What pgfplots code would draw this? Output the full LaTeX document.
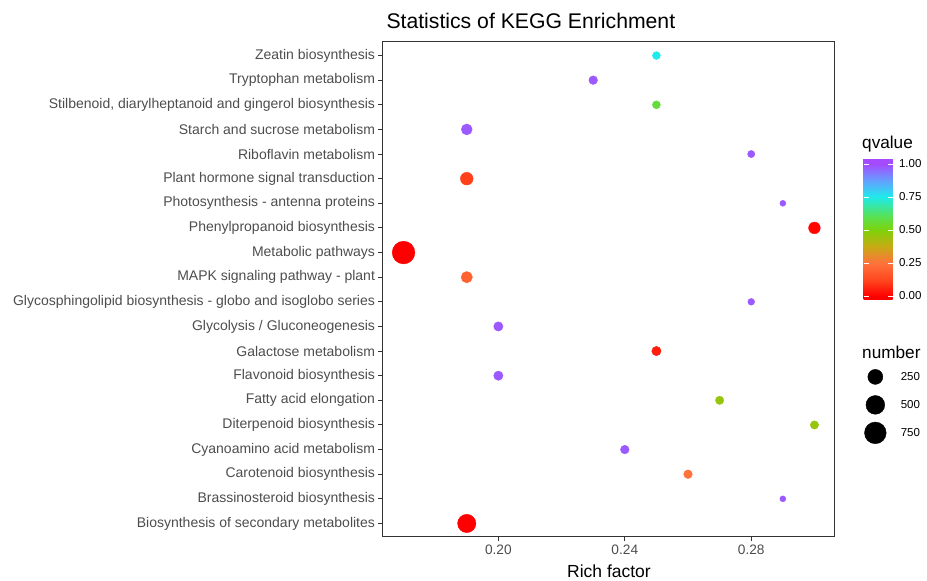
\documentclass[border=0pt]{standalone}
\usepackage{pgfplots}
\pgfplotsset{compat=1.18}
\usepackage{pgfplotstable}
\usepackage{fontspec}
\setmainfont{Liberation Sans}

\definecolor{ticktext}{HTML}{4D4D4D}
\definecolor{panelframe}{HTML}{333333}

% KEGG pathways: index on the y axis, rich factor, q value, gene number
\pgfplotstableread{
idx rf   q    n
1   0.19 0.00 463
2   0.29 0.98 3
3   0.26 0.25 25
4   0.24 0.98 25
5   0.30 0.46 20
6   0.27 0.46 20
7   0.20 0.98 37
8   0.25 0.05 37
9   0.20 0.98 37
10  0.28 0.98 5
11  0.19 0.20 90
12  0.17 0.00 850
13  0.30 0.01 102
14  0.29 0.98 3
15  0.19 0.11 140
16  0.28 0.98 8
17  0.19 0.98 78
18  0.25 0.57 15
19  0.23 0.98 25
20  0.25 0.75 15
}\keggtable

\begin{document}
\begin{tikzpicture}
\useasboundingbox (-383pt,-44pt) rectangle (544pt,537pt);
\begin{axis}[
  at={(0pt,0pt)}, anchor=south west,
  scale only axis, width=452pt, height=495pt,
  xmin=0.1635, xmax=0.3065, ymin=0.45, ymax=20.55,
  axis line style={panelframe, line width=1pt},
  tick style={panelframe, line width=0.9pt},
  major tick length=4.5pt, tick align=outside,
  xtick pos=bottom, ytick pos=left,
  xtick={0.20,0.24,0.28},
  /pgf/number format/assume math mode=true,
  xticklabel style={/pgf/number format/.cd, fixed, fixed zerofill, precision=2,
    /tikz/.cd, font=\fontsize{13.7}{16}\selectfont, text=ticktext},
  ytick={1,...,20},
  yticklabels={
    Biosynthesis of secondary metabolites,
    Brassinosteroid biosynthesis,
    Carotenoid biosynthesis,
    Cyanoamino acid metabolism,
    Diterpenoid biosynthesis,
    Fatty acid elongation,
    Flavonoid biosynthesis,
    Galactose metabolism,
    Glycolysis / Gluconeogenesis,
    Glycosphingolipid biosynthesis - globo and isoglobo series,
    MAPK signaling pathway - plant,
    Metabolic pathways,
    Phenylpropanoid biosynthesis,
    Photosynthesis - antenna proteins,
    Plant hormone signal transduction,
    Riboflavin metabolism,
    Starch and sucrose metabolism,
    {Stilbenoid, diarylheptanoid and gingerol biosynthesis},
    Tryptophan metabolism,
    Zeatin biosynthesis},
  yticklabel style={font=\fontsize{14}{16}\selectfont, text=ticktext},
  title={Statistics of KEGG Enrichment},
  title style={at={(0,1)}, anchor=base west, yshift=7pt,
    font=\fontsize{21.2}{24}\selectfont},
  xlabel={Rich factor},
  xlabel style={at={(0.5,0)}, anchor=base, yshift=-41pt,
    font=\fontsize{17.5}{20}\selectfont},
  colormap={qmap}{
    rgb255(0)=(255,0,0) rgb255(6)=(255,0,0) rgb255(30)=(255,70,30)
    rgb255(56)=(255,115,60) rgb255(81)=(200,170,20) rgb255(106)=(125,210,10)
    rgb255(126)=(90,225,80) rgb255(156)=(30,235,235) rgb255(181)=(100,160,255)
    rgb255(206)=(165,75,255) rgb255(215)=(165,75,255)},
  point meta min=-0.03, point meta max=1.045,
  colorbar,
  colorbar/width=29pt,
  colorbar style={
    at={(472pt,379pt)}, anchor=north west,
    scale only axis, height=142pt,
    axis line style={draw=none},
    ytick={0,0.25,0.5,0.75,1},
    yticklabels={0.00,0.25,0.50,0.75,1.00},
    ytick pos=both, yticklabel pos=right,
    tick align=inside, major tick length=5pt,
    tick style={white, line width=0.8pt},
    yticklabel style={font=\fontsize{11.5}{13}\selectfont, text=black, xshift=3pt},
  },
  legend image code/.code={%
    \path[draw=none, fill=none] (-11pt,-11pt) rectangle (11pt,11pt);
    \draw[#1] plot coordinates {(0pt,0pt)};},
  legend style={draw=none, fill=none, inner sep=0pt,
    at={(1.0645,0.3461)}, anchor=north west,
    nodes={inner sep=1pt},
    font=\fontsize{11.5}{13}\selectfont, row sep=6pt, column sep=13.5pt},
  legend cell align=left,
]
\addplot[scatter, only marks, mark=*, point meta=explicit, forget plot,
  visualization depends on={\thisrow{n} \as \nsize},
  scatter/use mapped color={draw=mapped color, fill=mapped color},
  scatter/@pre marker code/.append style={/tikz/mark size={3+8.35*sqrt((\nsize-3)/847)}}]
  table[x=rf, y=idx, meta=q]{\keggtable};
\addlegendimage{only marks, mark=*, black, mark size=7.5pt}
\addlegendentry{250}
\addlegendimage{only marks, mark=*, black, mark size=9.4pt}
\addlegendentry{500}
\addlegendimage{only marks, mark=*, black, mark size=10.85pt}
\addlegendentry{750}
\end{axis}
\node[anchor=base west, font=\fontsize{17.2}{20}\selectfont, inner sep=0pt] at (479pt,388pt) {qvalue};
\node[anchor=base west, font=\fontsize{17.2}{20}\selectfont, inner sep=0pt] at (479pt,178pt) {number};
\end{tikzpicture}
\end{document}
